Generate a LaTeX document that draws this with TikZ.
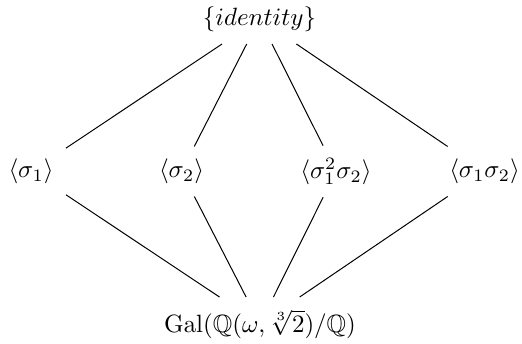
\documentclass[tikz,border=0pt]{standalone}
\usepackage{amssymb}
\begin{document}
\begin{tikzpicture}[x=0.4pt,y=-0.4pt,
  grp/.style={inner sep=4.8pt},
  edge/.style={draw=black, line width=0.4pt}]
\useasboundingbox (0,0) rectangle (522,344);
\node[grp] (id) at (259.5,19) {$\{identity\}$};
\node[grp] (s1) at (31,171.5) {$\langle\sigma_1\rangle$};
\node[grp] (s2) at (181.5,171.5) {$\langle\sigma_2\rangle$};
\node[grp] (s3) at (336,171.5) {$\langle\sigma_1^2\sigma_2\rangle$};
\node[grp] (s4) at (484.5,171.5) {$\langle\sigma_1\sigma_2\rangle$};
\node[grp] (gal) at (260,324) {$\mathrm{Gal}(\mathbb{Q}(\omega,\sqrt[3]{2})/\mathbb{Q})$};
\foreach \n in {s1,s2,s3,s4} {
  \draw[edge] (id) -- (\n);
  \draw[edge] (\n) -- (gal);
}
\end{tikzpicture}
\end{document}
